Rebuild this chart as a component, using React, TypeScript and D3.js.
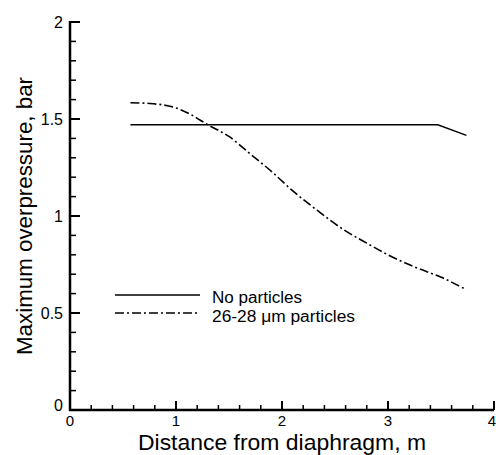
import React from "react";
import * as d3 from "d3";

const noParticlesX = [0.57, 3.47, 3.74];
const noParticlesY = [1.47, 1.47, 1.416];

const particlesX = [0.57, 0.75, 1.0, 1.15, 1.3, 1.5, 1.7, 1.9, 2.08, 2.33, 2.58, 2.8, 3.0, 3.24, 3.52, 3.74];
const particlesY = [1.584, 1.58, 1.557, 1.52, 1.47, 1.41, 1.32, 1.23, 1.14, 1.03, 0.93, 0.86, 0.8, 0.74, 0.68, 0.62];

const xMajor = [0, 1, 2, 3, 4];
const yMajor = [0, 0.5, 1, 1.5, 2];
const yMajorLabels = ["0", "0.5", "1", "1.5", "2"];
const legendLabels = ["No particles", "26-28 \u03bcm particles"];

const W = 496;
const H = 455;
const FONT = "'Liberation Sans', Arial, Helvetica, sans-serif";

export default function App() {
  const x = d3.scaleLinear().domain([0, 4]).range([70, 494]);
  const y = d3.scaleLinear().domain([0, 2]).range([410, 22]);

  const smoothLine = d3
    .line<[number, number]>()
    .x((d) => x(d[0]))
    .y((d) => y(d[1]))
    .curve(d3.curveMonotoneX);
  const straightLine = d3
    .line<[number, number]>()
    .x((d) => x(d[0]))
    .y((d) => y(d[1]));

  const solid = noParticlesX.map((v, i) => [v, noParticlesY[i]] as [number, number]);
  const dashed = particlesX.map((v, i) => [v, particlesY[i]] as [number, number]);

  const yMinor = d3.range(0, 2.0001, 0.1).filter((v) => Math.abs(v * 2 - Math.round(v * 2)) > 1e-6);
  const xMinor = d3.range(0, 4.0001, 0.2).filter((v) => Math.abs(v - Math.round(v)) > 1e-6);

  return (
    <svg
      width={W}
      height={H}
      style={{ position: "absolute", left: 0, top: 0, background: "#fff" }}
      fontFamily={FONT}
    >
      <rect width={W} height={H} fill="#fff" />
      {/* axes */}
      <line x1={x(0)} x2={x(0)} y1={y(0) + 1} y2={y(2) - 1} stroke="#000" strokeWidth={2.5} />
      <line x1={x(0) - 1} x2={x(4)} y1={y(0)} y2={y(0)} stroke="#000" strokeWidth={2.5} />
      {yMajor.map((v) => (
        <line key={"ym" + v} x1={x(0)} x2={x(0) + 10} y1={y(v)} y2={y(v)} stroke="#000" strokeWidth={2} />
      ))}
      {yMinor.map((v) => (
        <line key={"yn" + v} x1={x(0)} x2={x(0) + 6} y1={y(v)} y2={y(v)} stroke="#000" strokeWidth={1.5} />
      ))}
      {xMajor.map((v) => (
        <line key={"xm" + v} x1={x(v)} x2={x(v)} y1={y(0)} y2={y(0) - 9} stroke="#000" strokeWidth={2} />
      ))}
      {xMinor.map((v) => (
        <line key={"xn" + v} x1={x(v)} x2={x(v)} y1={y(0)} y2={y(0) - 5} stroke="#000" strokeWidth={1.5} />
      ))}
      {/* tick labels */}
      {yMajor.map((v, i) => (
        <text
          key={"yl" + v}
          x={x(0) - 7}
          y={y(v) + (v === 0 ? -5 : 0)}
          dy="0.35em"
          textAnchor="end"
          fontSize={16}
          fill="#000"
        >
          {yMajorLabels[i]}
        </text>
      ))}
      {xMajor.map((v) => (
        <text
          key={"xl" + v}
          x={v === 4 ? W : x(v)}
          y={y(0) + 16}
          textAnchor={v === 4 ? "end" : "middle"}
          fontSize={15}
          fill="#000"
        >
          {String(v)}
        </text>
      ))}
      {/* axis titles */}
      <text
        x={x(2)}
        y={450}
        textAnchor="middle"
        fontSize={22}
        textLength={288}
        lengthAdjust="spacingAndGlyphs"
        fill="#000"
      >
        Distance from diaphragm, m
      </text>
      <text
        transform={`translate(32, ${y(1)}) rotate(-90)`}
        textAnchor="middle"
        fontSize={22}
        textLength={278}
        lengthAdjust="spacingAndGlyphs"
        fill="#000"
      >
        Maximum overpressure, bar
      </text>
      {/* data */}
      <path d={straightLine(solid) || ""} fill="none" stroke="#000" strokeWidth={1.4} />
      <path d={smoothLine(dashed) || ""} fill="none" stroke="#000" strokeWidth={1.6} strokeDasharray="9,3,2,3" />
      {/* legend */}
      <line x1={115} x2={200} y1={295} y2={295} stroke="#000" strokeWidth={1.4} />
      <line x1={115} x2={200} y1={313} y2={313} stroke="#000" strokeWidth={1.6} strokeDasharray="9,3,2,3" />
      <text x={212} y={303} fontSize={16} textLength={90} lengthAdjust="spacingAndGlyphs" fill="#000">
        {legendLabels[0]}
      </text>
      <text x={212} y={322} fontSize={16} textLength={143} lengthAdjust="spacingAndGlyphs" fill="#000">
        {legendLabels[1]}
      </text>
    </svg>
  );
}
